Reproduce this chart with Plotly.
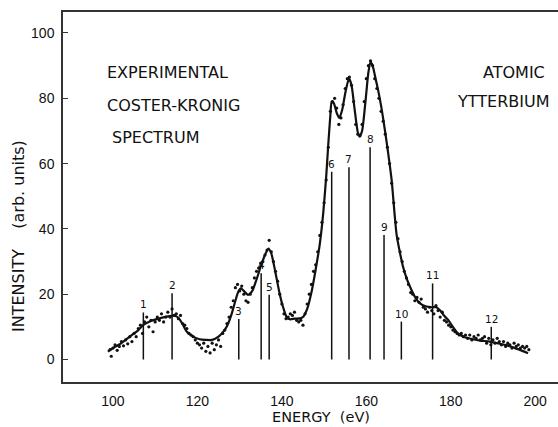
import plotly.graph_objects as go

# ---- data ----
curve_x = [98.8, 100, 102, 104, 106, 107.2, 109, 111, 113, 114.5, 115.5, 116.5, 117.5, 119, 120.5,
           122, 123.5, 125, 126, 127, 128, 129, 129.7, 130.3, 131, 132, 133, 134, 135, 136, 136.8,
           137.5, 138.5, 139.5, 140.3, 141.2, 142, 143, 144.3, 145, 146, 147, 148, 149, 149.8, 150.5,
           151, 151.5, 151.8, 152.3, 153, 153.6, 154.3, 155, 155.9, 156.5, 157.2, 158, 158.4, 159,
           159.8, 160.5, 161, 161.5, 162.2, 162.8, 163.6, 164.4, 165.2, 166, 166.7, 167.2, 168, 168.7,
           169.7, 170.7, 171.7, 172.7, 174, 175.5, 176.6, 177.5, 178.5, 179.4, 180.5, 181.7, 183,
           185.3, 187, 189.2, 191, 193.2, 195, 196.7, 198.3]
curve_y = [2.4, 3.5, 5.0, 7.0, 9.0, 10.6, 11.8, 12.6, 13.2, 13.4, 12.8, 10.8, 8.5, 7.0, 6.2,
           6.0, 6.0, 7.0, 8.3, 10.2, 13.5, 18.0, 20.8, 21.8, 21.0, 19.8, 21.0, 24.5, 28.5, 32.0, 34.0,
           32.5, 26.5, 20.0, 16.0, 12.8, 12.3, 12.5, 12.6, 13.0, 15.5, 20.5, 27.5, 35.5, 44.8, 56.0,
           66.0, 75.0, 79.0, 78.5, 75.5, 74.0, 76.5, 81.5, 86.1, 84.0, 77.0, 69.5, 68.3, 70.0,
           79.0, 88.0, 91.2, 90.0, 86.0, 82.5, 77.0, 70.3, 63.0, 55.0, 44.5, 38.0, 32.5, 28.4,
           24.3, 21.3, 18.8, 17.2, 16.3, 16.0, 16.0, 15.0, 13.3, 12.1, 10.0, 8.0, 7.0,
           6.2, 5.8, 5.5, 5.0, 4.4, 3.6, 2.8, 1.9]

points_x = [99.3, 99.6, 100, 100.5, 101, 101.5, 102, 102.5, 103, 103.5, 104, 104.5, 105, 105.5, 106,
            106.5, 107, 107.5, 108, 108.5, 109, 109.5, 110, 110.5, 111, 111.5, 112, 112.5, 113, 113.5,
            114, 114.5, 115, 115.5, 116, 116.5, 117, 117.5, 118, 118.5, 119, 119.5, 120, 120.5, 121,
            121.5, 122, 122.5, 123, 123.5, 124, 124.5, 125, 125.5, 126, 126.5, 127, 127.5, 128, 128.5,
            129, 129.5, 130, 130.5, 131, 131.5, 132, 132.5, 133, 133.5, 134, 134.5, 135, 135.5, 136,
            136.5, 137, 137.5, 138, 138.5, 139, 139.5, 140, 140.5, 141, 141.5, 142, 142.5, 143, 143.5,
            144, 144.5, 145, 145.5, 146, 146.5, 147, 147.5, 148, 148.5, 149, 149.5, 150, 150.5, 151,
            151.5, 152, 152.5, 153, 153.5, 154, 154.5, 155, 155.5, 156, 156.5, 157, 157.5, 158, 158.5,
            159, 159.5, 160, 160.5, 161, 161.5, 162, 162.5, 163, 163.5, 164, 164.5, 165, 165.5, 166,
            166.5, 167, 167.5, 168, 168.5, 169, 169.5, 170, 170.5, 171, 171.5, 172, 172.5, 173, 173.5,
            174, 174.5, 175, 175.5, 176, 176.5, 177, 177.5, 178, 178.5, 179, 179.5, 180, 180.5, 181,
            181.5, 182, 182.5, 183, 183.5, 184, 184.5, 185, 185.5, 186, 186.5, 187, 187.5, 188, 188.5,
            189, 189.5, 190, 190.5, 191, 191.5, 192, 192.5, 193, 193.5, 194, 194.5, 195, 195.5, 196,
            196.5, 197, 197.5, 198, 198.5]
points_y = [3.0, 1.0, 3.5, 4.5, 2.8, 4.0, 5.5, 4.2, 6.0, 4.8, 7.0, 5.5, 8.0, 7.0, 9.5,
            10.5, 8.0, 11.5, 13.0, 10.0, 12.0, 8.5, 11.5, 13.0, 12.0, 14.0, 11.5, 13.0, 14.5, 13.0,
            15.5, 13.5, 14.0, 12.5, 13.5, 11.0, 10.5, 9.5, 8.0, 7.5, 7.0, 6.0, 5.0, 4.5, 3.5,
            5.0, 2.5, 4.0, 2.0, 5.0, 3.0, 4.5, 6.0, 4.0, 8.0, 9.0, 11.0, 13.0, 16.0, 18.0,
            22.0, 23.0, 21.0, 22.5, 20.0, 18.0, 17.5, 20.0, 22.0, 25.0, 27.0, 28.0, 29.5, 30.0, 32.0,
            33.5, 36.5, 33.0, 30.0, 27.0, 24.0, 20.0, 17.0, 14.0, 12.5, 13.0, 14.0, 13.5, 14.5, 12.0,
            11.5, 12.0, 10.5, 14.0, 17.0, 20.0, 23.0, 27.0, 29.0, 33.0, 38.0, 42.0, 48.0, 55.0, 65.0,
            76.0, 79.0, 80.0, 77.0, 72.0, 74.0, 78.0, 83.0, 86.0, 86.5, 84.0, 79.0, 72.0, 69.0, 68.5,
            72.0, 79.0, 86.0, 90.0, 91.5, 90.0, 86.0, 83.0, 80.0, 76.0, 73.0, 69.0, 65.0, 60.0, 54.0,
            48.0, 42.0, 37.0, 33.0, 30.0, 27.0, 25.0, 23.0, 20.5, 20.0, 18.0, 19.0, 17.5, 18.5, 16.0,
            15.5, 14.5, 16.0, 15.0, 14.0, 16.5, 15.0, 13.0, 14.5, 12.0, 11.5, 10.5, 10.0, 9.0, 8.5,
            8.0, 7.5, 8.0, 7.0, 7.5, 6.5, 7.5, 6.0, 7.0, 6.5, 7.5, 6.0, 6.5, 7.0, 5.0,
            6.5, 4.5, 6.0, 5.0, 6.5, 5.5, 4.5, 5.5, 4.0, 5.0, 4.5, 3.5, 5.0, 4.0, 4.5,
            3.5, 4.0, 3.5, 4.0, 3.0]

line_labels = ["1", "2", "3", "4", "5", "6", "7", "8", "9", "10", "11", "12"]
line_x = [107.2, 114.0, 129.8, 135.1, 137.0, 151.8, 155.9, 160.9, 164.2, 168.3, 175.7, 189.6]
line_top = [14.4, 20.3, 12.4, 26.4, 19.8, 57.5, 58.9, 65.0, 38.1, 11.6, 23.3, 10.0]

x_ticks = [100, 120, 140, 160, 180, 200]
y_ticks = [0, 20, 40, 60, 80, 100]

INK = "#111111"
W, H = 558, 427
ML, MR, MT, MB = 63, 0, 12, 45


def px(x):
    return (x - ML) / (W - ML - MR)


def py(y):
    return (H - MB - y) / (H - MT - MB)


fig = go.Figure()

# stick lines (ticks of assigned transitions)
sx, sy = [], []
for xv, tv in zip(line_x, line_top):
    sx += [xv, xv, None]
    sy += [0, tv, None]
fig.add_trace(go.Scatter(x=sx, y=sy, mode="lines", line=dict(color=INK, width=1.5),
                         hoverinfo="skip", showlegend=False))

# experimental points
fig.add_trace(go.Scatter(x=points_x, y=points_y, mode="markers",
                         marker=dict(color=INK, size=3.2), showlegend=False))

# smooth fitted curve
fig.add_trace(go.Scatter(x=curve_x, y=curve_y, mode="lines",
                         line=dict(color=INK, width=2.2, shape="spline", smoothing=0.6),
                         showlegend=False))

annotations = []
for lab, xv, tv in zip(line_labels, line_x, line_top):
    annotations.append(dict(x=xv, y=tv, xref="x", yref="y", text=lab, showarrow=False,
                            yanchor="bottom", yshift=0,
                            font=dict(family="DejaVu Sans", size=10.5, color=INK)))

txtfont = dict(family="DejaVu Sans", size=16, color=INK)
for t, x, y, anc in [("EXPERIMENTAL", 105, 72, "left"),
                     ("COSTER-KRONIG", 105, 105, "left"),
                     ("SPECTRUM", 110, 137, "left"),
                     ("ATOMIC", 514, 72, "center"),
                     ("YTTERBIUM", 503, 101, "center")]:
    annotations.append(dict(x=px(x), y=py(y), xref="paper", yref="paper", text=t,
                            showarrow=False, xanchor=anc, yanchor="middle", font=txtfont))

annotations.append(dict(x=px(321), y=py(417), xref="paper", yref="paper",
                        text="ENERGY\u00a0\u00a0(eV)", showarrow=False,
                        xanchor="center", yanchor="middle",
                        font=dict(family="DejaVu Sans", size=14.5, color=INK)))
annotations.append(dict(x=px(18), y=py(236), xref="paper", yref="paper",
                        text="INTENSITY\u00a0\u00a0\u00a0\u00a0(arb.\u00a0units)", showarrow=False,
                        textangle=-90, xanchor="center", yanchor="middle",
                        font=dict(family="DejaVu Sans", size=16, color=INK)))

fig.update_layout(
    width=W, height=H,
    margin=dict(l=ML, r=MR, t=MT, b=MB, pad=0),
    paper_bgcolor="white", plot_bgcolor="white",
    showlegend=False,
    annotations=annotations,
    font=dict(family="Liberation Sans", size=14, color=INK),
)
fig.update_xaxes(range=[88.17, 205.4], tickvals=x_ticks, ticks="", showgrid=False,
                 zeroline=False, showline=True, linecolor="#333", linewidth=1.5, mirror=True,
                 ticklabelstandoff=5, tickfont=dict(family="Liberation Sans", size=14, color=INK))
fig.update_yaxes(range=[-6.89, 106.43], tickvals=y_ticks, ticks="inside", ticklen=5,
                 tickcolor="#333", tickwidth=1, showgrid=False, zeroline=False,
                 showline=True, linecolor="#333", linewidth=1.5, mirror=False,
                 ticklabelstandoff=4, tickfont=dict(family="Liberation Sans", size=14, color=INK))

fig.write_html("out.html", config={"displayModeBar": False},
               post_script="document.body.style.margin='0';document.body.style.overflow='hidden';")
